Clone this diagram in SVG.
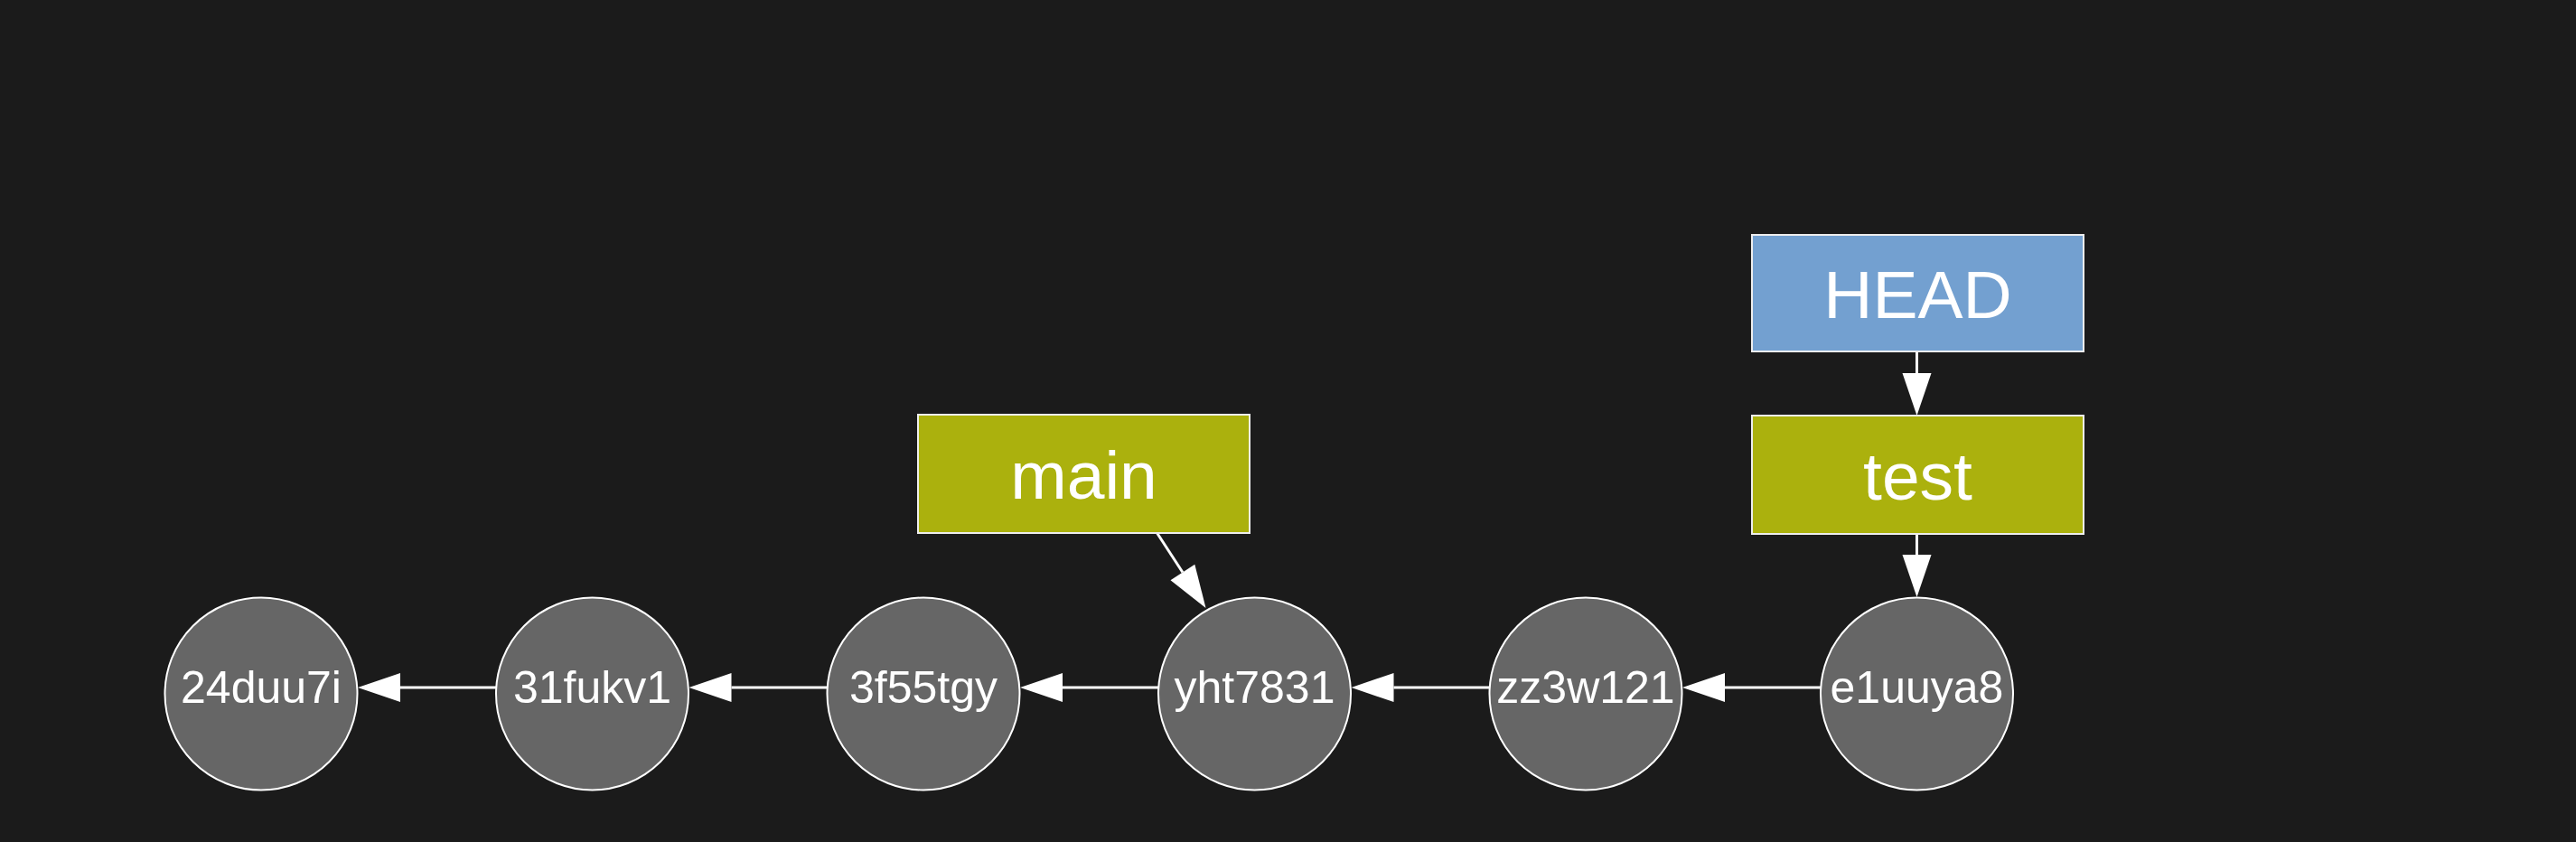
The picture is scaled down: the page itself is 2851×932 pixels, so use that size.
<svg xmlns="http://www.w3.org/2000/svg" width="2851" height="932" viewBox="0 0 2851 932">
<style>
.commit circle{fill:#666666;stroke:#ffffff;stroke-width:2}
.commit text{font-family:"Liberation Sans",Arial,sans-serif;font-size:50px;fill:#ffffff;text-anchor:middle}
.branch rect{fill:#abb10d;stroke:#eeeeee;stroke-width:2}
.head rect{fill:#73a0d0;stroke:#eeeeee;stroke-width:2}
.label text{font-family:"Liberation Sans",Arial,sans-serif;font-size:75px;fill:#ffffff;text-anchor:middle}
.edge{stroke:#ffffff;stroke-width:3;fill:none;marker-end:url(#ah)}
</style>
<defs>
<marker id="ah" markerUnits="userSpaceOnUse" markerWidth="50" markerHeight="34" refX="0" refY="16" orient="auto" overflow="visible">
<path d="M0,0 L47,16 L0,32 Z" fill="#ffffff"/>
</marker>
</defs>
<rect x="0" y="0" width="2851" height="932" fill="#1b1b1b"/>
<g id="connectors">
<line class="edge" x1="549" y1="761" x2="443" y2="761"/>
<line class="edge" x1="915.5" y1="761" x2="809.5" y2="761"/>
<line class="edge" x1="1282" y1="761" x2="1176" y2="761"/>
<line class="edge" x1="1648.5" y1="761" x2="1542.5" y2="761"/>
<line class="edge" x1="2015" y1="761" x2="1909" y2="761"/>
<line class="edge" x1="1280.6" y1="590" x2="1308.9" y2="633.5"/>
<line class="edge" x1="2121.5" y1="390" x2="2121.5" y2="413"/>
<line class="edge" x1="2121.5" y1="591" x2="2121.5" y2="614"/>
</g>
<g id="c24duu7i" class="commit"><circle cx="289" cy="768" r="106.5"/><text x="289" y="778">24duu7i</text></g>
<g id="c31fukv1" class="commit"><circle cx="655.5" cy="768" r="106.5"/><text x="655.5" y="778">31fukv1</text></g>
<g id="c3f55tgy" class="commit"><circle cx="1022" cy="768" r="106.5"/><text x="1022" y="778">3f55tgy</text></g>
<g id="cyht7831" class="commit"><circle cx="1388.5" cy="768" r="106.5"/><text x="1388.5" y="778">yht7831</text></g>
<g id="czz3w121" class="commit"><circle cx="1755" cy="768" r="106.5"/><text x="1755" y="778">zz3w121</text></g>
<g id="ce1uuya8" class="commit"><circle cx="2121.5" cy="768" r="106.5"/><text x="2121.5" y="778">e1uuya8</text></g>
<g id="main" class="branch label"><rect x="1016" y="459" width="367" height="131"/><text x="1199.5" y="552">main</text></g>
<g id="test" class="branch label"><rect x="1939" y="460" width="367" height="131"/><text x="2122.5" y="553">test</text></g>
<g id="HEAD" class="head label"><rect x="1939" y="260" width="367" height="129"/><text x="2122.5" y="352">HEAD</text></g>
</svg>
